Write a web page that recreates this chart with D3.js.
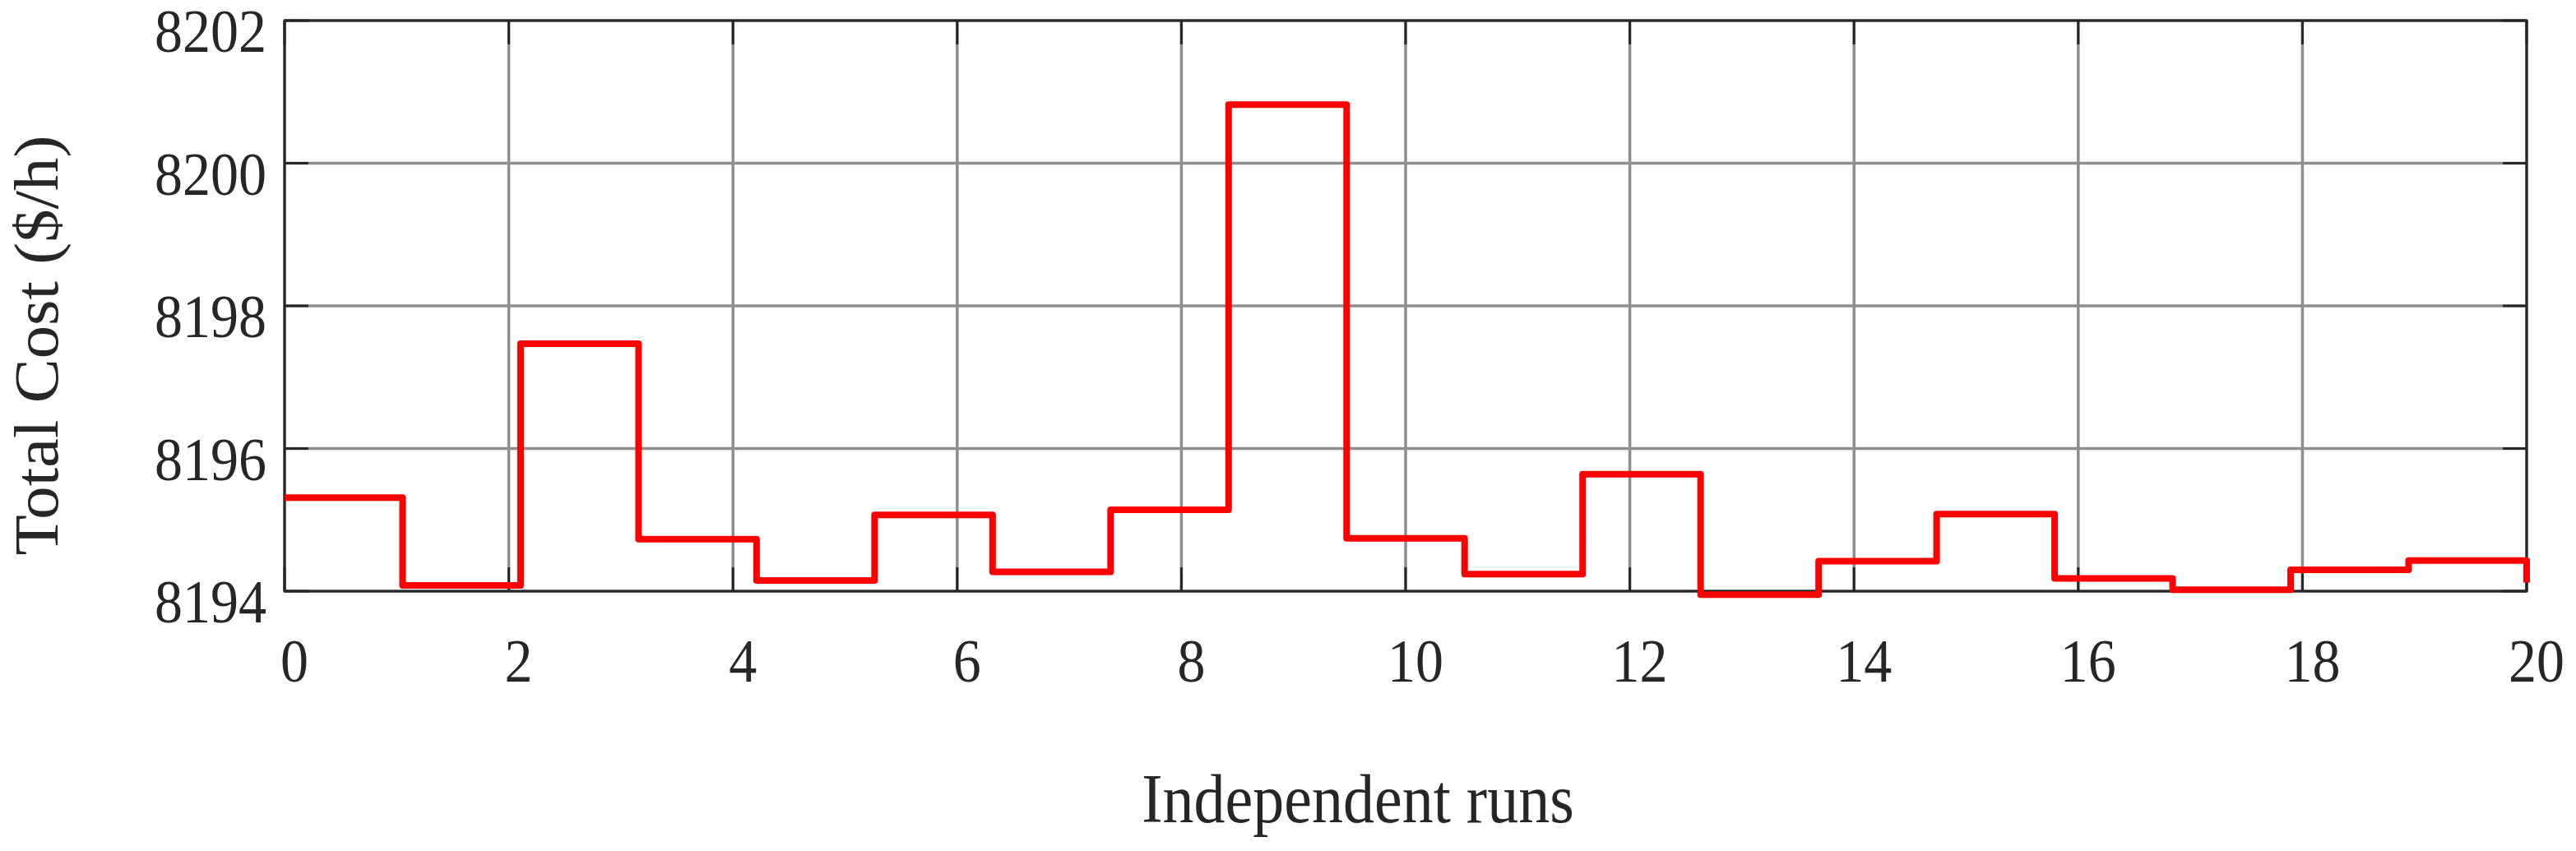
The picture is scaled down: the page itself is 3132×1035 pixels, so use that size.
<!DOCTYPE html>
<html>
<head>
<meta charset="utf-8">
<script src="https://cdn.jsdelivr.net/npm/d3@7"></script>
<style>
  body { margin: 0; background: #fff; }
  text { font-family: "Liberation Serif", "Times New Roman", serif; fill: #262626; }
</style>
</head>
<body>
<div id="chart"></div>
<script>
// total cost of each independent run
const costValues = [8195.31, 8194.08, 8197.47, 8194.73, 8194.15, 8195.07, 8194.27, 8195.14, 8200.82, 8194.74,
                    8194.24, 8195.64, 8193.95, 8194.42, 8195.08, 8194.18, 8194.02, 8194.30, 8194.43, 8194.12]
const xTicks = [0, 2, 4, 6, 8, 10, 12, 14, 16, 18, 20]
const yTicks = [8194, 8196, 8198, 8200, 8202]
const xLabel = "Independent runs"
const yLabel = "Total Cost ($/h)"

const width = 3132, height = 1035
const plot = {left: 346, right: 3072, top: 25, bottom: 719}
const tickLen = 29
const stretch = 1.1   // text in the source is a bit taller than wide

const svg = d3.select("#chart").append("svg")
  .attr("width", width)
  .attr("height", height)

const x = d3.scaleLinear().domain([0, 20]).range([plot.left, plot.right])
const y = d3.scaleLinear().domain([8194, 8202]).range([plot.bottom, plot.top])

// runs are spread evenly over 0..20 (like linspace)
const n = costValues.length
const points = costValues.map((v, i) => [i * 20 / (n - 1), v])

// grid
const grid = svg.append("g").attr("stroke", "#8e8e8e").attr("stroke-width", 3.5)
grid.selectAll(".gx").data(xTicks).enter().append("line")
  .attr("x1", d => x(d)).attr("x2", d => x(d))
  .attr("y1", plot.top).attr("y2", plot.bottom)
grid.selectAll(".gy").data(yTicks).enter().append("line")
  .attr("x1", plot.left).attr("x2", plot.right)
  .attr("y1", d => y(d)).attr("y2", d => y(d))

// ticks on all four sides, pointing inward
const ticks = svg.append("g").attr("stroke", "#262626").attr("stroke-width", 3)
xTicks.forEach(t => {
  ticks.append("line").attr("x1", x(t)).attr("x2", x(t)).attr("y1", plot.bottom).attr("y2", plot.bottom - tickLen)
  ticks.append("line").attr("x1", x(t)).attr("x2", x(t)).attr("y1", plot.top).attr("y2", plot.top + tickLen)
})
yTicks.forEach(t => {
  ticks.append("line").attr("x1", plot.left).attr("x2", plot.left + tickLen).attr("y1", y(t)).attr("y2", y(t))
  ticks.append("line").attr("x1", plot.right).attr("x2", plot.right - tickLen).attr("y1", y(t)).attr("y2", y(t))
})

svg.append("rect")
  .attr("x", plot.left).attr("y", plot.top)
  .attr("width", plot.right - plot.left).attr("height", plot.bottom - plot.top)
  .attr("fill", "none").attr("stroke", "#262626").attr("stroke-width", 3)

// stairs line
const line = d3.line()
  .x(d => x(d[0]))
  .y(d => y(d[1]))
  .curve(d3.curveStepAfter)

svg.append("path")
  .datum(points)
  .attr("d", line)
  .attr("fill", "none")
  .attr("stroke", "#ff0000")
  .attr("stroke-width", 8)
  .attr("stroke-linejoin", "round")

// tick labels
svg.append("g").selectAll("text").data(xTicks).enter().append("text")
  .attr("transform", d => "translate(" + (x(d) + 12) + "," + 829 + ") scale(1," + stretch + ")")
  .attr("text-anchor", "middle")
  .attr("font-size", 68)
  .text(d => d)

svg.append("g").selectAll("text").data(yTicks).enter().append("text")
  .attr("transform", d => "translate(" + 324 + "," + (y(d) + 38) + ") scale(1," + stretch + ")")
  .attr("text-anchor", "end")
  .attr("font-size", 68)
  .text(d => d)

// axis titles
svg.append("text")
  .attr("transform", "translate(1651,1000) scale(1," + stretch + ")")
  .attr("text-anchor", "middle")
  .attr("font-size", 76)
  .text(xLabel)

svg.append("text")
  .attr("transform", "translate(70,420) rotate(-90) scale(1.05,1)")
  .attr("text-anchor", "middle")
  .attr("font-size", 77)
  .text(yLabel)
</script>
</body>
</html>
